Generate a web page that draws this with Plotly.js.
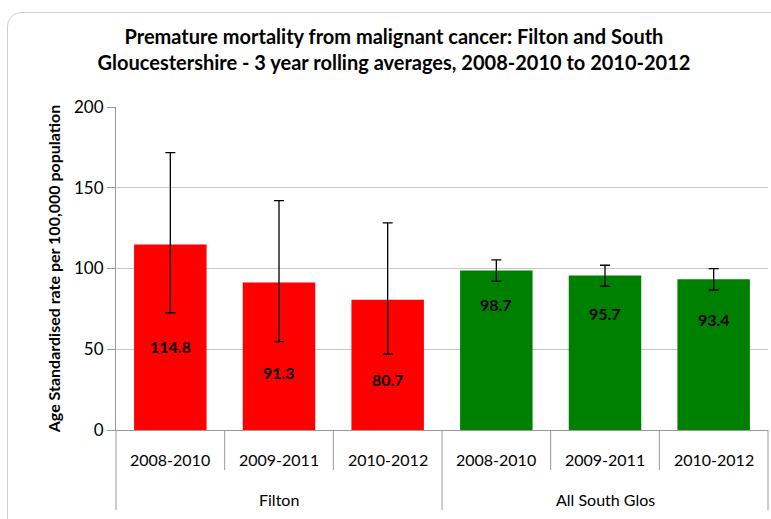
<!DOCTYPE html>
<html>
<head>
<meta charset="utf-8">
<script src="https://cdn.plot.ly/plotly-3.0.1.min.js"></script>
<style>
  html, body { margin: 0; padding: 0; background: #ffffff; overflow: hidden; }
  #chart { position: absolute; left: 0; top: 0; width: 771px; height: 519px; }
  #frame { position: absolute; left: 7px; top: 12px; width: 800px; height: 560px;
           border: 1px solid #d0d0d0; border-radius: 14px; pointer-events: none; }
</style>
</head>
<body>
<div id="chart"></div>
<div id="frame"></div>
<script>
// ---- data ----
const groups = ["Filton", "Filton", "Filton", "All South Glos", "All South Glos", "All South Glos"];
const periods = ["2008-2010", "2009-2011", "2010-2012", "2008-2010", "2009-2011", "2010-2012"];
const rates = [114.8, 91.3, 80.7, 98.7, 95.7, 93.4];
const ciUpper = [171.7, 142.0, 128.2, 105.3, 102.0, 99.9];
const ciLower = [72.6, 54.7, 46.9, 92.1, 89.0, 86.7];
const barColors = ["#ff0000", "#ff0000", "#ff0000", "#008000", "#008000", "#008000"];
const yTicks = [0, 50, 100, 150, 200];

// label anchor as fraction of bar height (placement, not data)
const labelFrac = [0.448, 0.393, 0.384, 0.79, 0.755, 0.733];

const FONT = "Lato, 'Open Sans', sans-serif";
const AXC = "#999999";

// plot geometry (pixels) used to place the hand-drawn category axis
const M = { l: 116, r: 3, t: 107, b: 89 };
const W = 771, H = 519;
const plotH = H - M.t - M.b;
const pxToPaperY = px => -px / plotH;   // px below the x axis line -> paper y

const trace = {
  type: "bar",
  x: [groups, periods],
  y: rates,
  marker: { color: barColors, line: { width: 0 } },
  width: 0.667,
  error_y: {
    type: "data",
    symmetric: false,
    array: rates.map((v, i) => ciUpper[i] - v),
    arrayminus: rates.map((v, i) => v - ciLower[i]),
    color: "#000000",
    thickness: 1.3,
    width: 5
  },
  hoverinfo: "y"
};

const n = rates.length;
const annotations = [];
const shapes = [];

// value labels
rates.forEach((v, i) => annotations.push({
  x: i, xref: "x", yref: "y",
  y: v * labelFrac[i],
  xanchor: "center", yanchor: "middle",
  text: "<b>" + v.toFixed(1) + "</b>",
  showarrow: false,
  font: { family: FONT, size: 16, color: "#000000" }
}));

// sub-category labels
periods.forEach((p, i) => annotations.push({
  x: (i + 0.5) / n, xref: "paper", xanchor: "center",
  y: pxToPaperY(29), yref: "paper", yanchor: "middle",
  text: p, showarrow: false,
  font: { family: FONT, size: 16, color: "#000000" }
}));

// group labels + dividers
const groupNames = [...new Set(groups)];
groupNames.forEach(g => {
  const first = groups.indexOf(g);
  const last = groups.lastIndexOf(g);
  annotations.push({
    x: (first + last + 1) / 2 / n, xref: "paper", xanchor: "center",
    y: pxToPaperY(69), yref: "paper", yanchor: "middle",
    text: g, showarrow: false,
    font: { family: FONT, size: 16, color: "#000000" }
  });
});

for (let b = 0; b <= n; b++) {
  const isGroupEdge = b === 0 || b === n || groups[b] !== groups[b - 1];
  shapes.push({
    type: "line", xref: "paper", yref: "paper",
    x0: b / n, x1: b / n,
    y0: 0, y1: pxToPaperY(isGroupEdge ? 80 : 40),
    line: { color: AXC, width: 1 }
  });
}

const layout = {
  width: W, height: H,
  margin: M,
  paper_bgcolor: "rgba(0,0,0,0)",
  plot_bgcolor: "#ffffff",
  showlegend: false,
  bargap: 0.333,
  title: {
    text: "<b>Premature mortality from malignant cancer: Filton and South<br>Gloucestershire - 3 year rolling averages, 2008-2010 to 2010-2012</b>",
    font: { family: FONT, size: 20, color: "#000000" },
    x: 0.511, xanchor: "center",
    y: 0.916, yanchor: "top"
  },
  xaxis: {
    type: "multicategory",
    showline: true, linecolor: AXC, linewidth: 1,
    showticklabels: false, ticks: "",
    showdividers: false,
    showgrid: false, zeroline: false, fixedrange: true
  },
  yaxis: {
    range: [0, 200],
    tickvals: yTicks,
    showgrid: true, gridcolor: "#c8c8c8", gridwidth: 1,
    showline: true, linecolor: AXC, linewidth: 1,
    ticks: "outside", ticklen: 8, tickcolor: AXC,
    tickfont: { family: FONT, size: 17, color: "#000000" },
    zeroline: false, fixedrange: true,
    title: {
      text: "<b>Age Standardised rate per 100,000 population</b>",
      font: { family: FONT, size: 16, color: "#000000" },
      standoff: 9
    }
  },
  annotations: annotations,
  shapes: shapes
};

Plotly.newPlot("chart", [trace], layout, { displayModeBar: false, staticPlot: true });
</script>
</body>
</html>
